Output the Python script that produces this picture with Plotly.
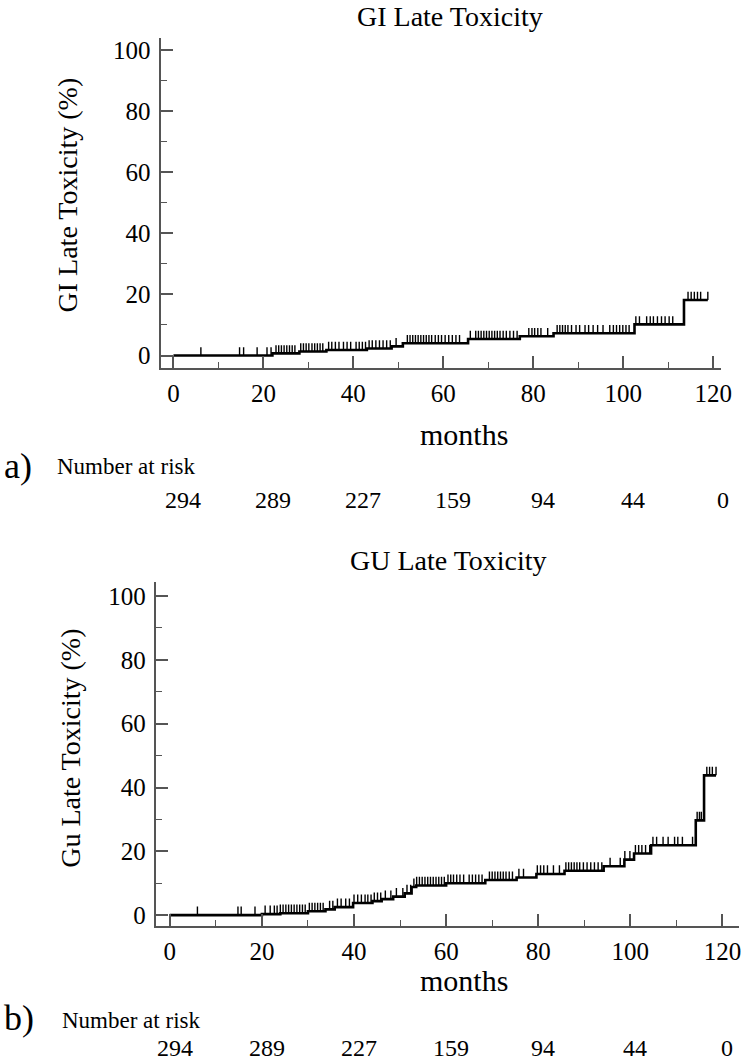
import plotly.graph_objects as go
import numpy as np

# ---------------- data ----------------
months_ticks = [0, 20, 40, 60, 80, 100, 120]
at_risk = [294, 289, 227, 159, 94, 44, 0]

gi_step_t = [0, 22, 28, 34, 43, 48.5, 51, 65.5, 77, 84.5, 102.5, 113.5]
gi_step_v = [0, 0.7, 1.3, 1.8, 2.3, 3.0, 4.0, 5.4, 6.3, 7.3, 10.2, 18.2]
gi_end = 118.8
gi_censor = [6.1, 14.7, 15.6, 18.6, 20.8, 21.7, 22.8, 23.4, 24.0, 24.6, 25.2, 25.8, 26.4, 27.0,
             28.3, 28.9, 29.5, 30.1, 30.8, 31.4, 32.0, 32.6, 33.2, 34.5, 35.2, 36.0, 36.8, 37.8,
             38.6, 39.4, 40.6, 41.3, 42.0, 42.7, 43.5, 44.2, 45.0, 45.8, 46.6, 47.4, 48.2, 49.5,
             52.0, 52.6, 53.2, 53.8, 54.4, 55.0, 55.6, 56.2, 56.8, 57.4, 58.2, 58.9, 59.6, 60.4,
             61.2, 62.0, 62.8, 63.6, 66.0, 67.2, 67.8, 68.4, 69.0, 69.6, 70.2, 70.8, 71.4, 72.0,
             72.6, 73.3, 74.0, 74.8, 75.6, 76.4, 79.0, 79.7, 80.3, 81.0, 81.7, 83.2, 85.3, 85.9,
             86.5, 87.1, 87.7, 88.5, 89.5, 90.3, 91.5, 92.3, 93.3, 94.3, 95.5, 97.0, 97.8, 98.5,
             99.2, 99.9, 100.6, 101.3, 102.8, 103.6, 105.2, 106.0, 106.7, 107.6, 108.5, 109.3,
             110.2, 111.0, 114.4, 115.1, 115.8, 116.5, 117.2, 118.8]

gu_step_t = [0, 20, 24, 30, 33.8, 35.8, 39.8, 44, 46, 48.5, 51, 52.5, 53.5, 60, 68.5, 75.3,
             79.6, 85.7, 94.2, 98.7, 100.8, 104.5, 114.2, 116]
gu_step_v = [0, 0.3, 0.6, 1.2, 1.8, 2.5, 3.8, 4.4, 5.0, 5.8, 6.8, 8.8, 9.3, 10.0, 11.0, 11.8,
             12.9, 13.9, 15.3, 17.4, 19.3, 21.9, 29.7, 43.8]
gu_end = 118.6
gu_censor = [6.0, 14.8, 15.5, 18.5, 20.7, 21.8, 22.7, 23.3, 24.0, 24.6, 25.2, 25.8, 26.4, 27.0,
             27.6, 28.2, 28.8, 29.4, 30.3, 30.9, 31.5, 32.1, 32.7, 33.3, 34.7, 35.4, 36.4, 37.2,
             38.2, 39.0, 40.0, 40.8, 41.6, 42.4, 43.0, 43.7, 44.4, 45.1, 45.8, 46.8, 48.0, 49.2,
             50.6, 51.5, 52.3, 53.0, 53.6, 54.2, 54.8, 55.4, 56.0, 56.6, 57.2, 57.8, 58.4, 59.0,
             59.6, 60.4, 61.0, 61.6, 62.3, 63.0, 63.8, 65.0, 65.7, 66.4, 67.1, 67.8, 69.4, 70.0,
             70.6, 71.2, 71.8, 72.4, 73.0, 73.7, 74.4, 75.8, 76.8, 79.8, 80.5, 81.2, 82.0, 83.3,
             84.6, 86.0, 86.6, 87.2, 87.8, 88.4, 89.0, 89.8, 90.6, 91.4, 92.2, 93.0, 93.8, 95.6,
             97.8, 98.8, 99.9, 101.1, 101.8, 102.5, 103.3, 104.2, 104.9, 105.7, 107.1, 108.2,
             109.6, 110.3, 111.3, 113.5, 114.5, 115.0, 115.4, 116.6, 117.2, 117.8, 118.6]

# ---------------- helpers ----------------
FONT = "Liberation Serif"
AX = "#555555"
TICK_H = 2.7  # censor tick height in y units


def step_level(ts, vs, t):
    idx = np.searchsorted(ts, t, side="right") - 1
    return vs[max(idx, 0)]


def censor_segments(ts, vs, cens, h):
    xs, ys = [], []
    for c in cens:
        lv = step_level(ts, vs, c)
        xs += [c, c, None]
        ys += [lv, lv + h, None]
    return xs, ys


fig = go.Figure()


def add_km(ts, vs, end, cens, xa, ya):
    fig.add_trace(go.Scatter(x=list(ts) + [end], y=list(vs) + [vs[-1]], mode="lines",
                             line=dict(color="black", width=2.6, shape="hv"),
                             xaxis=xa, yaxis=ya, showlegend=False, hoverinfo="skip"))
    cx, cy = censor_segments(ts, vs, cens, TICK_H)
    fig.add_trace(go.Scatter(x=cx, y=cy, mode="lines", line=dict(color="black", width=1.4),
                             xaxis=xa, yaxis=ya, showlegend=False, hoverinfo="skip"))


add_km(gi_step_t, gi_step_v, gi_end, gi_censor, "x", "y")
add_km(gu_step_t, gu_step_v, gu_end, gu_censor, "x2", "y2")

W, H = 754, 1063


def xdom(l, r):
    return [l / W, r / W]


def ydom(b, t):
    return [(H - b) / H, (H - t) / H]


common_x = dict(showline=True, linecolor=AX, linewidth=2, ticks="inside", ticklen=12,
                tickwidth=1.6, tickcolor=AX, tickvals=months_ticks, showgrid=False,
                zeroline=False, tickfont=dict(family=FONT, size=25, color="black"),
                minor=dict(ticks="inside", ticklen=6, tickwidth=1.3, tickcolor=AX, dtick=10,
                           tick0=0, showgrid=False),
                ticklabelstandoff=2)
common_y = dict(showline=True, linecolor=AX, linewidth=2, ticks="inside", ticklen=12,
                tickwidth=1.6, tickcolor=AX, tickvals=[0, 20, 40, 60, 80, 100], showgrid=False,
                zeroline=False, tickfont=dict(family=FONT, size=25, color="black"),
                minor=dict(ticks="inside", ticklen=6, tickwidth=1.3, tickcolor=AX, dtick=10,
                           tick0=0, showgrid=False),
                ticklabelstandoff=3)

fig.update_layout(
    width=W, height=H, margin=dict(l=0, r=0, t=0, b=0),
    paper_bgcolor="white", plot_bgcolor="white",
    xaxis=dict(domain=xdom(163, 732), range=[-2.85, 121.8], anchor="y", **common_x),
    yaxis=dict(domain=ydom(368.3, 37), range=[-4.18, 104.1], anchor="x", **common_y),
    xaxis2=dict(domain=xdom(158, 750), range=[-3.06, 123.6], anchor="y2", **common_x),
    yaxis2=dict(domain=ydom(928, 583), range=[-3.53, 104.3], anchor="x2", **common_y),
)


def px_y(y):
    return (H - y) / H


def px_x(x):
    return x / W


ann = []


def txt(text, x, y, size, xanchor="center", angle=0):
    ann.append(dict(text=text, x=px_x(x), y=px_y(y), xref="paper", yref="paper",
                    showarrow=False, xanchor=xanchor, yanchor="middle", textangle=angle,
                    font=dict(family=FONT, size=size, color="black")))


# panel a
txt("GI Late Toxicity", 457, 16, 28)
txt("GI Late Toxicity (%)", 68, 195, 28, angle=-90)
txt("months", 471, 435, 30)
txt("a)", 2, 466, 36, xanchor="left")
txt("Number at risk", 56, 467, 23, xanchor="left")
# panel b
txt("GU Late Toxicity", 455, 561, 28)
txt("Gu Late Toxicity (%)", 72, 749, 28, angle=-90)
txt("months", 471, 982, 30)
txt("b)", 2, 1020, 36, xanchor="left")
txt("Number at risk", 61, 1022, 23, xanchor="left")

for t, n in zip(months_ticks, at_risk):
    ann.append(dict(text=str(n), x=t, xref="x", y=px_y(500), yref="paper", showarrow=False,
                    xanchor="center", yanchor="middle", xshift=10,
                    font=dict(family=FONT, size=24, color="black")))
    ann.append(dict(text=str(n), x=t, xref="x2", y=px_y(1050), yref="paper", showarrow=False,
                    xanchor="center", yanchor="middle", xshift=5,
                    font=dict(family=FONT, size=24, color="black")))

fig.update_layout(annotations=ann)

fig.write_html("out.html", config={"displayModeBar": False},
               post_script="document.body.style.margin='0';document.body.style.padding='0';")
